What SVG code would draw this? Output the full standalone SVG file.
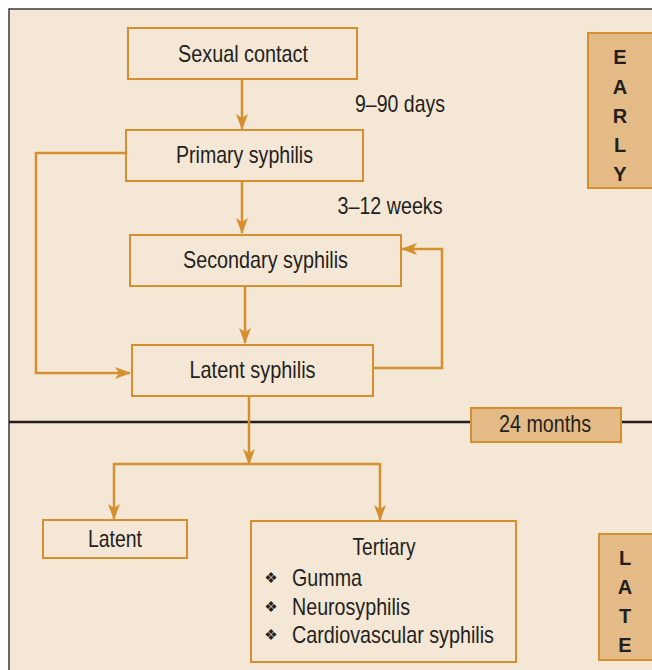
<svg xmlns="http://www.w3.org/2000/svg" width="652" height="670" viewBox="0 0 652 670">
<defs>
<style>
.bg{fill:#f5e7d5}
.box{fill:#f5e7d5;stroke:#d68f2e;stroke-width:2}
.tag{fill:#e4bb86;stroke:#d68f2e;stroke-width:2}
.t{font-family:"Liberation Sans",Arial,sans-serif;font-size:24px;fill:#231f20}
.c{text-anchor:middle}
.L{font-family:"Liberation Sans",Arial,sans-serif;font-size:20px;font-weight:bold;fill:#231f20;text-anchor:middle}
.b{font-family:"DejaVu Sans",sans-serif;font-size:15px;fill:#231f20;text-anchor:middle;text-rendering:geometricPrecision}
.ln{fill:none;stroke:#d68f2e;stroke-width:2.5}
.arr{marker-end:url(#ah)}
</style>
<marker id="ah" viewBox="0 0 16 12" refX="15" refY="6" markerWidth="16" markerHeight="12" markerUnits="userSpaceOnUse" orient="auto">
<path d="M0,0 L16,6 L0,12 L4,6 Z" fill="#d68f2e"/>
</marker>
</defs>
<rect x="0" y="0" width="652" height="670" fill="#ffffff"/>
<rect class="bg" x="9" y="9" width="643" height="661"/>
<path d="M9,670 V9 H652" fill="none" stroke="#3a3a3a" stroke-width="1.5"/>
<line x1="9" y1="422" x2="652" y2="422" stroke="#231f20" stroke-width="2.5"/>

<g id="connectors">
<path class="ln arr" d="M242,79 V129"/>
<path class="ln arr" d="M242,181 V233"/>
<path class="ln arr" d="M245,286 V343"/>
<path class="ln arr" d="M126,153 H36 V373 H130"/>
<path class="ln arr" d="M373,368 H442 V249 H402"/>
<path class="ln arr" d="M249,396 V464"/>
<path class="ln" d="M114,464 H380"/>
<path class="ln arr" d="M114,463 V519"/>
<path class="ln arr" d="M380,463 V520"/>
</g>

<g id="sexual-contact">
<rect class="box" x="128" y="28" width="229" height="51"/>
<text class="t c" x="243" y="62" textLength="130" lengthAdjust="spacingAndGlyphs">Sexual contact</text>
</g>
<g id="primary">
<rect class="box" x="126" y="130" width="237" height="51"/>
<text class="t c" x="244.5" y="163" textLength="137" lengthAdjust="spacingAndGlyphs">Primary syphilis</text>
</g>
<g id="secondary">
<rect class="box" x="130" y="235" width="271" height="51"/>
<text class="t c" x="265.5" y="268" textLength="165" lengthAdjust="spacingAndGlyphs">Secondary syphilis</text>
</g>
<g id="latent-syphilis">
<rect class="box" x="132" y="345" width="241" height="51"/>
<text class="t c" x="252.5" y="378" textLength="126" lengthAdjust="spacingAndGlyphs">Latent syphilis</text>
</g>
<g id="label-9-90">
<text class="t" x="355" y="112" textLength="90" lengthAdjust="spacingAndGlyphs">9–90 days</text>
</g>
<g id="label-3-12">
<text class="t" x="337.5" y="214" textLength="105" lengthAdjust="spacingAndGlyphs">3–12 weeks</text>
</g>
<g id="months24">
<rect class="tag" x="471" y="408" width="150" height="34"/>
<text class="t c" x="545" y="432" textLength="92" lengthAdjust="spacingAndGlyphs">24 months</text>
</g>
<g id="latent">
<rect class="box" x="43" y="520" width="144" height="38"/>
<text class="t c" x="115" y="547" textLength="54" lengthAdjust="spacingAndGlyphs">Latent</text>
</g>
<g id="tertiary">
<rect class="box" x="251" y="521" width="265" height="141"/>
<text class="t c" x="384" y="555" textLength="63" lengthAdjust="spacingAndGlyphs">Tertiary</text>
<text class="b" x="271" y="583">❖︎</text>
<text class="t" x="292" y="586" textLength="70" lengthAdjust="spacingAndGlyphs">Gumma</text>
<text class="b" x="271" y="612">❖︎</text>
<text class="t" x="292" y="615" textLength="118" lengthAdjust="spacingAndGlyphs">Neurosyphilis</text>
<text class="b" x="271" y="640">❖︎</text>
<text class="t" x="292" y="643" textLength="202" lengthAdjust="spacingAndGlyphs">Cardiovascular syphilis</text>
</g>
<g id="early">
<rect class="tag" x="588" y="33" width="70" height="155"/>
<text class="L" x="620" y="64">E</text>
<text class="L" x="620" y="94">A</text>
<text class="L" x="620" y="123">R</text>
<text class="L" x="620" y="152">L</text>
<text class="L" x="620" y="181">Y</text>
</g>
<g id="late">
<rect class="tag" x="599" y="534" width="60" height="126"/>
<text class="L" x="625" y="565">L</text>
<text class="L" x="625" y="594">A</text>
<text class="L" x="625" y="623">T</text>
<text class="L" x="625" y="652">E</text>
</g>
</svg>
